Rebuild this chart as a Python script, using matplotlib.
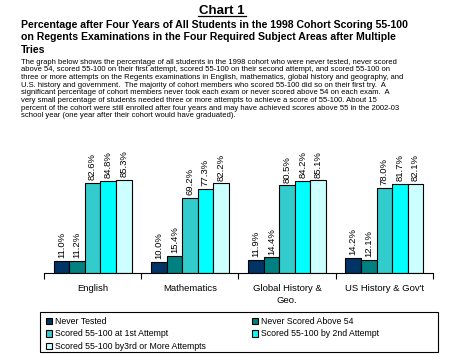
import numpy as np
from matplotlib import pyplot as plt
from matplotlib.patches import Rectangle

plt.rcParams['font.family'] = ['Liberation Sans', 'DejaVu Sans']

# data
subjects = ['English', 'Mathematics', 'Global History &\nGeo.', "US History & Gov't"]
series_names = ['Never Tested', 'Never Scored Above 54', 'Scored 55-100 at 1st Attempt',
                'Scored 55-100 by 2nd Attempt', 'Scored 55-100 by3rd or More Attempts']
never_tested = [11.0, 10.0, 11.9, 14.2]
never_above_54 = [11.2, 15.4, 14.4, 12.1]
first_attempt = [82.6, 69.2, 80.5, 78.0]
second_attempt = [84.8, 77.3, 84.2, 81.7]
third_attempt = [85.3, 82.2, 85.1, 82.1]
colors = ['#003366', '#008080', '#33CCCC', '#00FFFF', '#CCFFFF']

paragraph = [
    "The graph below shows the percentage of all students in the 1998 cohort who were never tested, never scored",
    "above 54, scored 55-100 on their first attempt, scored 55-100 on their second attempt, and scored 55-100 on",
    "three or more attempts on the Regents examinations in English, mathematics, global history and geography, and",
    "U.S. history and government.  The majority of cohort members who scored 55-100 did so on their first try.  A",
    "significant percentage of cohort members never took each exam or never scored above 54 on each exam.  A",
    "very small percentage of students needed three or more attempts to achieve a score of 55-100. About 15",
    "percent of the cohort were still enrolled after four years and may have achieved scores above 55 in the 2002-03",
    "school year (one year after their cohort would have graduated).",
]

W, H = 477, 358
fig = plt.figure(figsize=(W / 100, H / 100), dpi=100)

# titles
fig.text(222 / W, 1 - 14 / H, 'Chart 1', ha='center', va='baseline', fontsize=9.5,
         fontweight='bold', color='black')
fig.add_artist(plt.Line2D([198 / W, 246 / W], [1 - 16 / H, 1 - 16 / H], color='black', lw=0.9))
sub = ["Percentage after Four Years of All Students in the 1998 Cohort Scoring 55-100",
       "on Regents Examinations in the Four Required Subject Areas after Multiple",
       "Tries"]
for i, s in enumerate(sub):
    fig.text(21 / W, 1 - (25 + 12.5 * i) / H, s, ha='left', va='center', fontsize=7.6,
             fontweight='bold')
for i, s in enumerate(paragraph):
    fig.text(21 / W, 1 - (62 + 7.7 * i) / H, s, ha='left', va='center', fontsize=5.5)

# bars
ax = fig.add_axes([44 / W, 85 / H, 389 / W, 109 / H])
x = np.arange(len(subjects))
bw = 0.8 / 5
allvals = [never_tested, never_above_54, first_attempt, second_attempt, third_attempt]
handles = []
for k, vals in enumerate(allvals):
    pos = x - 0.4 + bw * (k + 0.5)
    b = ax.bar(pos, vals, bw, color=colors[k], edgecolor='black', linewidth=0.8,
               label=series_names[k])
    handles.append(b)
    for p, v in zip(pos, vals):
        ax.text(p, v + 2.5, '%.1f%%' % v, rotation=90, ha='center', va='bottom', fontsize=6.8)

ax.set_xlim(-0.5, len(subjects) - 0.5)
ax.set_ylim(0, 100)
ax.set_yticks([])
for s in ['left', 'right', 'top']:
    ax.spines[s].set_visible(False)
ax.spines['bottom'].set_linewidth(0.8)
ax.set_xticks(np.arange(len(subjects) + 1) - 0.5, minor=False)
ax.set_xticklabels([''] * (len(subjects) + 1))
ax.tick_params(axis='x', length=4, width=0.8, direction='out')
for i, s in enumerate(subjects):
    ax.text(i, -10, s, ha='center', va='top', fontsize=6.8, linespacing=1.5)

# legend box and entries
fig.add_artist(Rectangle((40 / W, 6 / H), 398 / W, 40 / H, transform=fig.transFigure,
                         facecolor='none', edgecolor='black', linewidth=0.8))
order = [0, 2, 4, 1, 3]
leg = fig.legend([handles[i] for i in order], [series_names[i] for i in order],
                 ncol=2, loc='upper left', bbox_to_anchor=(46 / W, 1 - 317 / H),
                 fontsize=6.3, frameon=False,
                 handlelength=0.7, handleheight=0.7, handletextpad=0.3,
                 borderpad=0.0, labelspacing=0.4, columnspacing=5.3, borderaxespad=0)

fig.savefig('out.png', dpi=100)
